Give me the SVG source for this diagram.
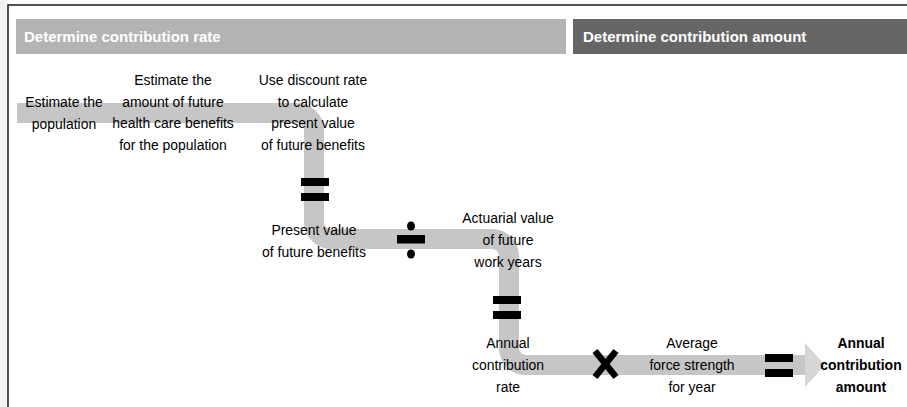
<svg xmlns="http://www.w3.org/2000/svg" width="907" height="407" viewBox="0 0 907 407">
<style>
.hdr{font-family:"Liberation Sans",Arial,sans-serif;font-size:15px;font-weight:bold;fill:#ffffff}
.lbl{font-family:"Liberation Sans",Arial,sans-serif;font-size:15.5px;fill:#000000;text-anchor:middle}
.bold{font-weight:bold}
.op{fill:#000000}
</style>
<rect x="0" y="0" width="907" height="407" fill="#ffffff"/>
<rect x="0" y="0" width="7.5" height="407" fill="#f3f3f3"/>
<path d="M8 407 V5 H907" fill="none" stroke="#1a1a1a" stroke-width="1.5"/>
<g id="header-rate">
<rect x="16" y="19" width="550" height="35" fill="#b3b3b3"/>
<text class="hdr" x="24" y="42">Determine contribution rate</text>
</g>
<g id="header-amount">
<rect x="573" y="19" width="334" height="35" fill="#666666"/>
<text class="hdr" x="583" y="42">Determine contribution amount</text>
</g>
<g id="connectors">
<path d="M17 113 H297 A17 17 0 0 1 314 130 V222 A17 17 0 0 0 331 239 H492 A17 17 0 0 1 509 256 V348 A17 17 0 0 0 526 365 H806" fill="none" stroke="#c6c6c6" stroke-width="20"/>
<polygon points="805,343 825,365 805,387" fill="#d6d6d6"/>
</g>
<g id="op-equals-1" class="op">
<rect x="301" y="178" width="28" height="8"/>
<rect x="301" y="193" width="28" height="8"/>
</g>
<g id="op-divide" class="op">
<rect x="397" y="235" width="28" height="8.5"/>
<ellipse cx="411" cy="226" rx="4" ry="4.5"/>
<ellipse cx="411" cy="254" rx="4" ry="4.5"/>
</g>
<g id="op-equals-2" class="op">
<rect x="493" y="296" width="28" height="8"/>
<rect x="493" y="311" width="28" height="8"/>
</g>
<g id="op-times">
<path d="M595 351 L616 377 M616 351 L595 377" stroke="#000000" stroke-width="6.5" fill="none"/>
</g>
<g id="op-equals-3" class="op">
<rect x="765" y="354" width="28" height="8"/>
<rect x="765" y="369" width="28" height="8"/>
</g>
<g id="node-population" transform="translate(64 0) scale(0.9 1)">
<text class="lbl" x="0" y="107">Estimate the</text>
<text class="lbl" x="0" y="129">population</text>
</g>
<g id="node-benefits" transform="translate(173 0) scale(0.9 1)">
<text class="lbl" x="0" y="85.5">Estimate the</text>
<text class="lbl" x="0" y="107">amount of future</text>
<text class="lbl" x="0" y="128.5">health care benefits</text>
<text class="lbl" x="0" y="150">for the population</text>
</g>
<g id="node-discount" transform="translate(313 0) scale(0.9 1)">
<text class="lbl" x="0" y="85.5">Use discount rate</text>
<text class="lbl" x="0" y="107">to calculate</text>
<text class="lbl" x="0" y="128.5">present value</text>
<text class="lbl" x="0" y="150">of future benefits</text>
</g>
<g id="node-present-value" transform="translate(314 0) scale(0.9 1)">
<text class="lbl" x="0" y="235">Present value</text>
<text class="lbl" x="0" y="257">of future benefits</text>
</g>
<g id="node-actuarial" transform="translate(508 0) scale(0.9 1)">
<text class="lbl" x="0" y="223">Actuarial value</text>
<text class="lbl" x="0" y="245">of future</text>
<text class="lbl" x="0" y="267">work years</text>
</g>
<g id="node-rate" transform="translate(508 0) scale(0.9 1)">
<text class="lbl" x="0" y="348">Annual</text>
<text class="lbl" x="0" y="370">contribution</text>
<text class="lbl" x="0" y="392">rate</text>
</g>
<g id="node-force" transform="translate(692 0) scale(0.9 1)">
<text class="lbl" x="0" y="348">Average</text>
<text class="lbl" x="0" y="370">force strength</text>
<text class="lbl" x="0" y="392">for year</text>
</g>
<g id="node-amount" transform="translate(861 0) scale(0.9 1)">
<text class="lbl bold" x="0" y="348">Annual</text>
<text class="lbl bold" x="0" y="370">contribution</text>
<text class="lbl bold" x="0" y="392">amount</text>
</g>
</svg>
